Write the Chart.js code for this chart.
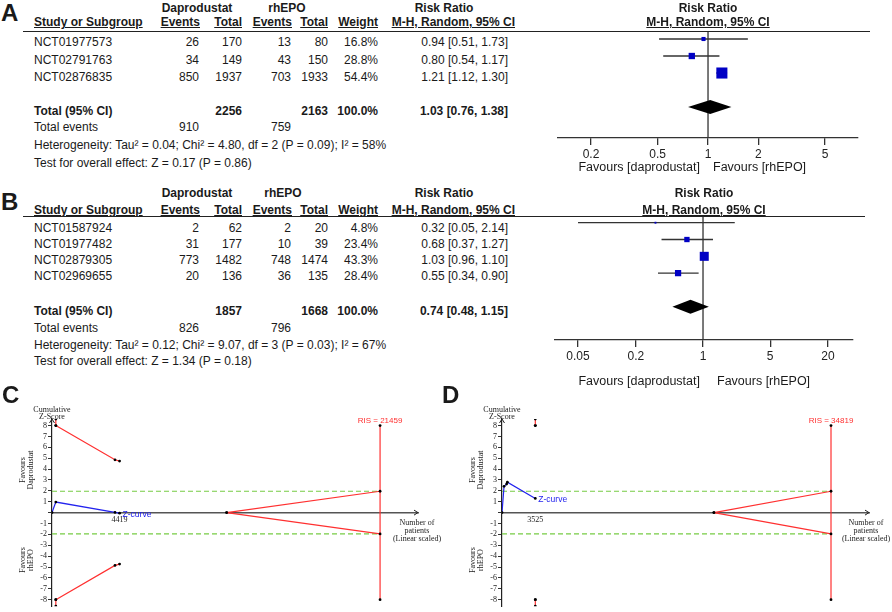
<!DOCTYPE html>
<html>
<head>
<meta charset="utf-8">
<script src="https://cdn.jsdelivr.net/npm/chart.js@4.4.0/dist/chart.umd.min.js"></script>
<style>
html, body { margin: 0; padding: 0; background: #fff; }
#fig { position: relative; width: 892px; height: 612px; overflow: hidden; font-family: Arial, "Liberation Sans", sans-serif; color: #1a1a1a; }
.t { position: absolute; white-space: nowrap; }
.b { font-weight: bold; }
.u { text-decoration: underline; }
.serif { font-family: "Liberation Serif", "DejaVu Serif", serif; color: #222; }
.rule { position: absolute; height: 0; border-top: 1.4px solid #222; }
canvas { position: absolute; }
</style>
</head>
<body>
<div id="fig">
  <canvas id="forestA" width="340" height="185" style="left:540px;top:0px;width:340px;height:185px"></canvas>
  <canvas id="forestB" width="340" height="185" style="left:540px;top:200px;width:340px;height:185px"></canvas>
  <canvas id="tsaC" width="446" height="217" style="left:0px;top:395px;width:446px;height:217px"></canvas>
  <canvas id="tsaD" width="442" height="217" style="left:450px;top:395px;width:442px;height:217px"></canvas>
</div>
<script>
// ---- panel A: daprodustat vs rhEPO
const studiesA = ['NCT01977573', 'NCT02791763', 'NCT02876835'];
const dapEventsA = [26, 34, 850];
const dapTotalA = [170, 149, 1937];
const epoEventsA = [13, 43, 703];
const epoTotalA = [80, 150, 1933];
const weightA = [16.8, 28.8, 54.4];
const rrA = [0.94, 0.80, 1.21];
const loA = [0.51, 0.54, 1.12];
const hiA = [1.73, 1.17, 1.30];
const pooledA = [1.03, 0.76, 1.38];
const hetA = 'Heterogeneity: Tau² = 0.04; Chi² = 4.80, df = 2 (P = 0.09); I² = 58%';
const testA = 'Test for overall effect: Z = 0.17 (P = 0.86)';
const ticksA = [0.2, 0.5, 1, 2, 5];

// ---- panel B
const studiesB = ['NCT01587924', 'NCT01977482', 'NCT02879305', 'NCT02969655'];
const dapEventsB = [2, 31, 773, 20];
const dapTotalB = [62, 177, 1482, 136];
const epoEventsB = [2, 10, 748, 36];
const epoTotalB = [20, 39, 1474, 135];
const weightB = [4.8, 23.4, 43.3, 28.4];
const rrB = [0.32, 0.68, 1.03, 0.55];
const loB = [0.05, 0.37, 0.96, 0.34];
const hiB = [2.14, 1.27, 1.10, 0.90];
const pooledB = [0.74, 0.48, 1.15];
const hetB = 'Heterogeneity: Tau² = 0.12; Chi² = 9.07, df = 3 (P = 0.03); I² = 67%';
const testB = 'Test for overall effect: Z = 1.34 (P = 0.18)';
const ticksB = [0.05, 0.2, 1, 5, 20];

const weightTotal = 100.0;

// ---- panel C: trial sequential analysis for A
const zPatientsC = [0, 250, 4120, 4419];
const zScoreC = [0, 0.97, 0.02, -0.05];
const boundPatientsC = [250, 4120, 4419];
const boundUpperC = [8, 4.85, 4.73];
const clipPatientsC = [250];
const risC = 21459;
const futilityStartC = 11425;
const xMaxC = 23940;

// ---- panel D: trial sequential analysis for B
const zPatientsD = [0, 216, 487, 569, 3525];
const zScoreD = [0, 2.41, 2.62, 2.8, 1.3];
const boundPatientsD = [3525];
const boundUpperD = [8];
const clipPatientsD = [3525];
const risD = 34819;
const futilityStartD = 22430;
const xMaxD = 38840;

const zTicks = [8, 7, 6, 5, 4, 3, 2, 1, 0, -1, -2, -3, -4, -5, -6, -7, -8];
const zCrit = 1.96;
const zClip = 8;
const zTop = 8.6;

const W = 892;
const fig = document.getElementById('fig');

function t(x, y, str, o = {}) {
  const fs = o.size || 12;
  const d = document.createElement('div');
  d.className = 't' + (o.cls ? ' ' + o.cls : '');
  d.textContent = str;
  d.style.fontSize = fs + 'px';
  d.style.lineHeight = fs + 'px';
  d.style.top = (y - fs / 2) + 'px';
  const a = o.align || 'l';
  if (a === 'r') d.style.right = (W - x) + 'px';
  else d.style.left = x + 'px';
  if (a === 'c') d.style.transform = 'translateX(-50%)';
  if (o.rot) {
    d.style.top = y + 'px';
    d.style.transform = 'translate(-50%,-50%) rotate(-90deg)';
  }
  if (o.color) d.style.color = o.color;
  fig.appendChild(d);
}

function rule(x1, x2, y) {
  const d = document.createElement('div');
  d.className = 'rule';
  d.style.left = x1 + 'px';
  d.style.width = (x2 - x1) + 'px';
  d.style.top = y + 'px';
  fig.appendChild(d);
}

const sum = a => a.reduce((s, v) => s + v, 0);
const ci = (r, l, h) => `${r.toFixed(2)} [${l.toFixed(2)}, ${h.toFixed(2)}]`;
const colR = [199, 242, 291, 328, 378, 508];

function table(p) {
  t(1, p.letterY, p.letter, { size: 24, cls: 'b' });
  t(197, p.h1, 'Daprodustat', { align: 'c', cls: 'b' });
  t(p.epoX, p.h1, 'rhEPO', { align: 'c', cls: 'b' });
  t(444, p.h1, 'Risk Ratio', { align: 'c', cls: 'b' });
  t(p.plotX, p.h1, 'Risk Ratio', { align: 'c', cls: 'b' });
  t(34, p.h2, 'Study or Subgroup', { cls: 'b u' });
  t(200, p.h2, 'Events', { align: 'r', cls: 'b u' });
  t(242, p.h2, 'Total', { align: 'r', cls: 'b u' });
  t(292, p.h2, 'Events', { align: 'r', cls: 'b u' });
  t(328, p.h2, 'Total', { align: 'r', cls: 'b u' });
  t(378, p.h2, 'Weight', { align: 'r', cls: 'b u' });
  t(515, p.h2, 'M-H, Random, 95% CI', { align: 'r', cls: 'b u' });
  t(p.plotX, p.h2, 'M-H, Random, 95% CI', { align: 'c', cls: 'b u' });
  rule(23, p.ruleEnd, p.rule);
  p.studies.forEach((s, i) => {
    const y = p.rows[i];
    t(34, y, s);
    t(colR[0], y, String(p.de[i]), { align: 'r' });
    t(colR[1], y, String(p.dt[i]), { align: 'r' });
    t(colR[2], y, String(p.ee[i]), { align: 'r' });
    t(colR[3], y, String(p.et[i]), { align: 'r' });
    t(colR[4], y, p.w[i].toFixed(1) + '%', { align: 'r' });
    t(colR[5], y, ci(p.rr[i], p.lo[i], p.hi[i]), { align: 'r' });
  });
  t(34, p.total, 'Total (95% CI)', { cls: 'b' });
  t(colR[1], p.total, String(sum(p.dt)), { align: 'r', cls: 'b' });
  t(colR[3], p.total, String(sum(p.et)), { align: 'r', cls: 'b' });
  t(colR[4], p.total, weightTotal.toFixed(1) + '%', { align: 'r', cls: 'b' });
  t(colR[5], p.total, ci(p.pooled[0], p.pooled[1], p.pooled[2]), { align: 'r', cls: 'b' });
  t(34, p.events, 'Total events');
  t(colR[0], p.events, String(sum(p.de)), { align: 'r' });
  t(colR[2], p.events, String(sum(p.ee)), { align: 'r' });
  t(34, p.het, p.hetText);
  t(34, p.test, p.testText);
  t(p.favL, p.fav, 'Favours [daprodustat]', { align: 'r', size: 12.5 });
  t(p.favR, p.fav, 'Favours [rhEPO]', { size: 12.5 });
}

table({
  letter: 'A', letterY: 12.5, h1: 8.3, h2: 22, rule: 31, ruleEnd: 870, epoX: 287, plotX: 708,
  studies: studiesA, de: dapEventsA, dt: dapTotalA, ee: epoEventsA, et: epoTotalA, w: weightA,
  rr: rrA, lo: loA, hi: hiA, pooled: pooledA, rows: [42, 59.5, 77], total: 110.5, events: 127,
  het: 145, test: 162.5, hetText: hetA, testText: testA, fav: 167.5, favL: 700, favR: 713
});
table({
  letter: 'B', letterY: 202, h1: 192.8, h2: 209.5, rule: 216, ruleEnd: 865, epoX: 283, plotX: 704,
  studies: studiesB, de: dapEventsB, dt: dapTotalB, ee: epoEventsB, et: epoTotalB, w: weightB,
  rr: rrB, lo: loB, hi: hiB, pooled: pooledB, rows: [228, 244, 260, 276], total: 310.5, events: 328,
  het: 344.7, test: 361, hetText: hetB, testText: testB, fav: 381, favL: 700, favR: 717
});

// TSA text labels
function tsaText(ax, letterX, letter) {
  t(letterX, 394.5, letter, { size: 24, cls: 'b' });
  t(ax, 409.5, 'Cumulative', { align: 'c', size: 8, cls: 'serif' });
  t(ax, 416.5, 'Z-Score', { align: 'c', size: 8, cls: 'serif' });
  t(ax - 29, 470, 'Favours', { rot: true, size: 8, cls: 'serif' });
  t(ax - 21.5, 470, 'Daprodustat', { rot: true, size: 8, cls: 'serif' });
  t(ax - 29, 560, 'Favours', { rot: true, size: 8, cls: 'serif' });
  t(ax - 21.5, 560, 'rhEPO', { rot: true, size: 8, cls: 'serif' });
}
tsaText(52, 2, 'C');
tsaText(502, 442, 'D');
function patientsLabel(x) {
  t(x, 522.7, 'Number of', { align: 'c', size: 8, cls: 'serif' });
  t(x, 530.7, 'patients', { align: 'c', size: 8, cls: 'serif' });
  t(x, 538.5, '(Linear scaled)', { align: 'c', size: 8, cls: 'serif' });
}
patientsLabel(417);
patientsLabel(866);

// ---- forest plots
const diamondPlugin = {
  id: 'diamond',
  afterDatasetsDraw(chart, args, o) {
    const { x, y } = chart.scales;
    const ctx = chart.ctx;
    const cy = y.getPixelForValue(o.row);
    ctx.save();
    ctx.beginPath();
    ctx.moveTo(x.getPixelForValue(o.pooled[1]), cy);
    ctx.lineTo(x.getPixelForValue(o.pooled[0]), cy - o.half);
    ctx.lineTo(x.getPixelForValue(o.pooled[2]), cy);
    ctx.lineTo(x.getPixelForValue(o.pooled[0]), cy + o.half);
    ctx.closePath();
    ctx.fillStyle = '#000';
    ctx.fill();
    ctx.restore();
  }
};

function forest(id, p) {
  const rows = p.rr.map((v, i) => i + 1);
  const datasets = [{
    data: p.rr.map((v, i) => ({ x: v, y: rows[i] })),
    pointStyle: 'rect',
    pointRadius: p.w.map(w => (1 + w * 0.185) / 1.414),
    pointBackgroundColor: '#0000c4',
    pointBorderWidth: 0,
    order: 0
  }];
  p.lo.forEach((l, i) => {
    datasets.push({
      data: [{ x: l, y: rows[i] }, { x: p.hi[i], y: rows[i] }],
      showLine: true, borderColor: '#333', borderWidth: 1.3, pointRadius: 0, order: 1
    });
  });
  datasets.push({
    data: [{ x: 1, y: p.yMin }, { x: 1, y: p.yMax }],
    showLine: true, borderColor: '#333', borderWidth: 1.3, pointRadius: 0, order: 2
  });
  new Chart(document.getElementById(id), {
    type: 'scatter',
    data: { datasets },
    plugins: [diamondPlugin],
    options: {
      responsive: false,
      animation: false,
      layout: { padding: p.pad },
      plugins: {
        legend: { display: false },
        tooltip: { enabled: false },
        diamond: { pooled: p.pooled, row: p.diamondRow, half: 7 }
      },
      scales: {
        x: {
          type: 'logarithmic',
          min: p.xMin,
          max: p.xMax,
          afterBuildTicks: s => { s.ticks = p.ticks.map(v => ({ value: v })); },
          afterFit: s => { s.height = p.axisH; },
          ticks: {
            callback: v => String(v),
            autoSkip: false, maxRotation: 0, padding: 2,
            color: '#222', font: { family: 'Arial, "Liberation Sans", sans-serif', size: 12 }
          },
          grid: { drawOnChartArea: false, tickLength: 7, color: '#333', lineWidth: 1.3 },
          border: { color: '#333', width: 1.3 }
        },
        y: { type: 'linear', reverse: true, min: p.yMin, max: p.yMax, display: false }
      }
    }
  });
}

forest('forestA', {
  rr: rrA, lo: loA, hi: hiA, w: weightA, pooled: pooledA, diamondRow: 5, ticks: ticksA,
  xMin: 0.127, xMax: 7.87, yMin: 0.53, yMax: 6.82, axisH: 47,
  pad: { left: 18, right: 22, top: 31, bottom: 0 }
});
forest('forestB', {
  rr: rrB, lo: loB, hi: hiB, w: weightB, pooled: pooledB, diamondRow: 6, ticks: ticksB,
  xMin: 0.0288, xMax: 36.4, yMin: 0.6, yMax: 7.98, axisH: 45,
  pad: { left: 15, right: 27, top: 16, bottom: 0 }
});

// ---- trial sequential analysis plots
const RED = '#ff3030', BLUE = '#2323ee', GREEN = '#77cc44';

const tsaPlugin = {
  id: 'tsaMarks',
  afterDatasetsDraw(chart, args, o) {
    const { x, y } = chart.scales;
    const ctx = chart.ctx;
    const area = chart.chartArea;
    ctx.save();
    ctx.font = '8px Arial, "Liberation Sans", sans-serif';
    ctx.fillStyle = RED;
    ctx.textAlign = 'center';
    ctx.textBaseline = 'bottom';
    ctx.fillText('RIS = ' + o.ris, x.getPixelForValue(o.ris), y.getPixelForValue(zClip) - 1);
    const n = o.zx.length - 1;
    ctx.font = '8.5px Arial, "Liberation Sans", sans-serif';
    ctx.fillStyle = BLUE;
    ctx.textAlign = 'left';
    ctx.textBaseline = 'middle';
    ctx.fillText('Z-curve', x.getPixelForValue(o.zx[n]) + 3, y.getPixelForValue(o.zy[n]) + o.dy);
    ctx.strokeStyle = '#222';
    ctx.lineWidth = 1;
    ctx.beginPath();
    ctx.moveTo(area.left - 2.5, area.top + 4);
    ctx.lineTo(area.left, area.top);
    ctx.lineTo(area.left + 2.5, area.top + 4);
    ctx.stroke();
    const y0 = y.getPixelForValue(0);
    ctx.beginPath();
    ctx.moveTo(area.right - 4, y0 - 2.5);
    ctx.lineTo(area.right, y0);
    ctx.lineTo(area.right - 4, y0 + 2.5);
    ctx.stroke();
    ctx.restore();
  }
};

function tsa(id, p) {
  const dot = { pointRadius: 1.4, pointBackgroundColor: '#000', pointBorderWidth: 0 };
  const line = (pts, color, extra = {}) => Object.assign({
    data: pts, showLine: true, borderColor: color, borderWidth: 1.2
  }, dot, extra);
  const datasets = [
    line(p.zx.map((v, i) => ({ x: v, y: p.zy[i] })), BLUE, { order: 0 }),
    line([{ x: 0, y: zCrit }, { x: p.ris, y: zCrit }], GREEN, { borderDash: [5, 3], pointRadius: 0, order: 5 }),
    line([{ x: 0, y: -zCrit }, { x: p.ris, y: -zCrit }], GREEN, { borderDash: [5, 3], pointRadius: 0, order: 5 }),
    line(p.bx.map((v, i) => ({ x: v, y: p.bu[i] })), RED, { order: 2 }),
    line(p.bx.map((v, i) => ({ x: v, y: -p.bu[i] })), RED, { order: 2 }),
    line([{ x: p.fut, y: 0 }, { x: p.ris, y: zCrit }], RED, { order: 3 }),
    line([{ x: p.fut, y: 0 }, { x: p.ris, y: -zCrit }], RED, { order: 3 }),
    line([{ x: p.ris, y: zClip }, { x: p.ris, y: -zClip }], RED, { order: 4 })
  ];
  p.clip.forEach(c => {
    datasets.push(line([{ x: c, y: zClip }, { x: c, y: zTop }], RED, { order: 1 }));
    datasets.push(line([{ x: c, y: -zClip }, { x: c, y: -zTop }], RED, { order: 1 }));
  });
  const serif = { family: '"Liberation Serif", "DejaVu Serif", serif', size: 8 };
  new Chart(document.getElementById(id), {
    type: 'scatter',
    data: { datasets },
    plugins: [tsaPlugin],
    options: {
      responsive: false,
      animation: false,
      layout: { padding: p.pad },
      plugins: {
        legend: { display: false },
        tooltip: { enabled: false },
        tsaMarks: { ris: p.ris, zx: p.zx, zy: p.zy, dy: p.dy }
      },
      scales: {
        x: {
          type: 'linear', min: 0, max: p.xMax, position: { y: 0 },
          afterBuildTicks: s => { s.ticks = [{ value: p.zx[p.zx.length - 1] }]; },
          ticks: { callback: v => String(v), padding: 3, color: '#222', font: serif, autoSkip: false, maxRotation: 0 },
          grid: { drawOnChartArea: false, drawTicks: false },
          border: { color: '#555', width: 1.6 }
        },
        y: {
          type: 'linear', min: -zTop, max: zTop,
          afterBuildTicks: s => { s.ticks = zTicks.map(v => ({ value: v })); },
          afterFit: s => { s.width = 52; },
          ticks: { callback: v => (v === 0 ? '' : String(v)), padding: 1, color: '#222', font: serif, autoSkip: false },
          grid: { drawOnChartArea: false, tickLength: 4, color: '#333' },
          border: { color: '#222', width: 1.2 }
        }
      }
    }
  });
}

tsa('tsaC', {
  zx: zPatientsC, zy: zScoreC, bx: boundPatientsC, bu: boundUpperC, clip: clipPatientsC,
  ris: risC, fut: futilityStartC, xMax: xMaxC, dy: 2,
  pad: { left: 0, right: 28, top: 24, bottom: 3 }
});
tsa('tsaD', {
  zx: zPatientsD, zy: zScoreD, bx: boundPatientsD, bu: boundUpperD, clip: clipPatientsD,
  ris: risD, fut: futilityStartD, xMax: xMaxD, dy: 1,
  pad: { left: 0, right: 23, top: 24, bottom: 3 }
});
</script>
</body>
</html>
